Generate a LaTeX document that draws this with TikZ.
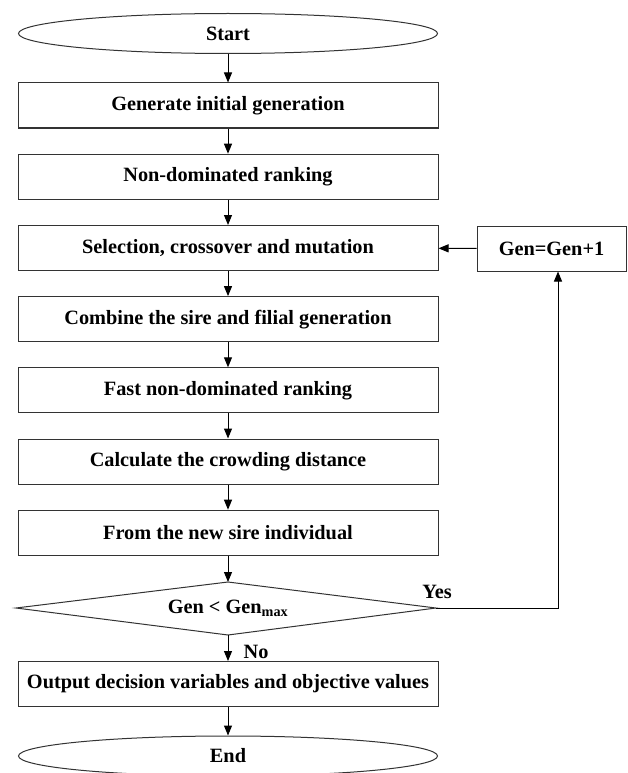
\documentclass[tikz,border=0pt]{standalone}
\usepackage{fontspec}
\setmainfont{Liberation Serif}
\usetikzlibrary{shapes.geometric,arrows.meta}
\begin{document}
\begin{tikzpicture}[x=1pt,y=-1pt,
  line width=1pt,
  every node/.style={font=\fontsize{20.3}{24}\selectfont\bfseries, text=black},
  stepbox/.style={draw=black!80, rectangle, minimum width=420pt, minimum height=45pt, inner sep=0pt},
  genbox/.style={draw=black!80, rectangle, minimum width=149pt, minimum height=45pt, inner sep=0pt},
  term/.style={draw=black!80, ellipse, minimum width=419pt, minimum height=40pt, inner sep=0pt},
  conn/.style={draw=black, -{Triangle[length=10pt,width=8pt]}},
  plain/.style={draw=black!80}
]
\clip (0,0) rectangle (627,773);
\fill[white] (0,0) rectangle (627,773);
\node[term] (start) at (228,33.5) {Start};
\node[stepbox] (b1) at (228,105.5) {Generate initial generation};
\node[stepbox] (b2) at (228,176.7) {Non-dominated ranking};
\node[stepbox] (b3) at (228,248) {Selection, crossover and mutation};
\node[stepbox] (b4) at (228,319.1) {Combine the sire and filial generation};
\node[stepbox] (b5) at (228,390.3) {Fast non-dominated ranking};
\node[stepbox] (b6) at (228,461.5) {Calculate the crowding distance};
\node[stepbox] (b7) at (228,532.7) {From the new sire individual};
\node[inner sep=0pt] (dia) at (228,608) {Gen < Gen\textsubscript{max}};
\coordinate (dT) at (228,582);
\coordinate (dB) at (228,635);
\coordinate (dL) at (16,608);
\coordinate (dR) at (436,608);
\draw[plain] (dT) -- (dR) -- (dB) -- (dL) -- cycle;
\node[stepbox] (out) at (228,684) {Output decision variables and objective values};
\node[term] (end) at (228,756) {End};
\node[genbox] (gen) at (551.5,248.5) {Gen=Gen+1};
\coordinate (corner) at (558,608);
\draw[conn] (start) -- (b1);
\draw[conn] (b1) -- (b2);
\draw[conn] (b2) -- (b3);
\draw[conn] (b3) -- (b4);
\draw[conn] (b4) -- (b5);
\draw[conn] (b5) -- (b6);
\draw[conn] (b6) -- (b7);
\draw[conn] (b7) -- (dT);
\draw[conn] (dB) -- (out);
\draw[conn] (out) -- (end);
\draw[conn] (gen) -- (b3);
\draw[conn] (dR) -- (corner) -- (corner |- gen.south);
\node (yes) at (437,592) {Yes};
\node (no) at (256,652) {No};
\end{tikzpicture}
\end{document}
